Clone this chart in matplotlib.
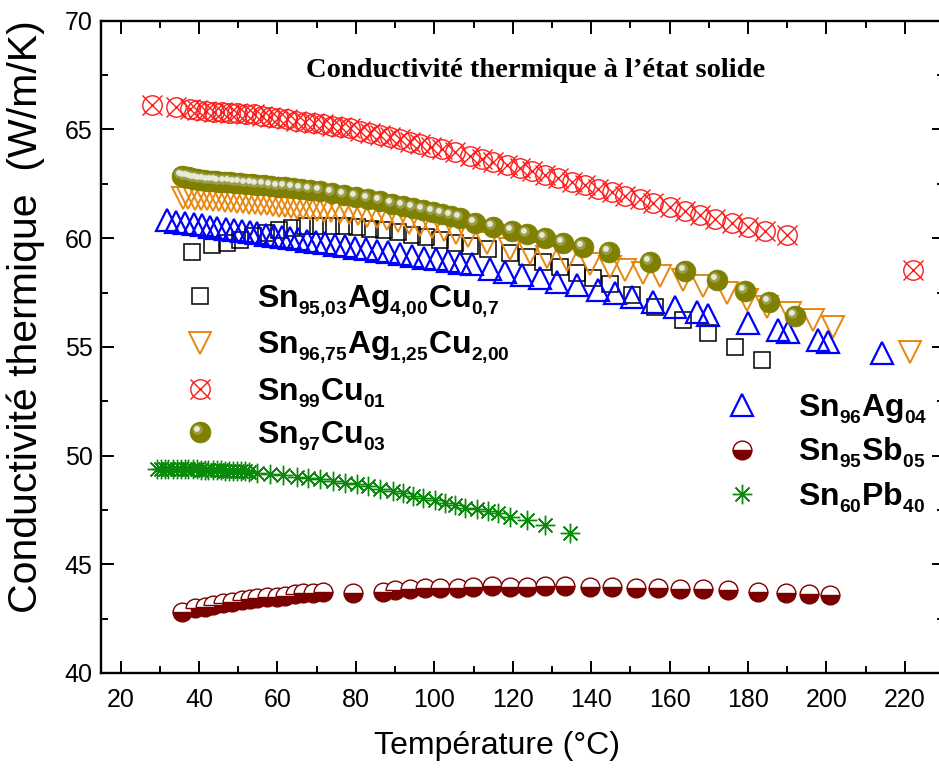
import matplotlib
matplotlib.use("Agg")
import matplotlib.pyplot as plt
from matplotlib.path import Path
from matplotlib.legend_handler import HandlerTuple
from matplotlib.ticker import MultipleLocator

try:
    import matplotlib._mathtext as _mt
    _mt.SHRINK_FACTOR = 0.6
    _mt.FontConstantsBase.sub1 = 0.45
except Exception:
    pass

# ---------------- data ----------------
# Sn95,03Ag4,00Cu0,7  (black open squares)
T_sac = [38.1, 43.2, 47.0, 50.4, 53.7, 57.0, 60.3, 63.6, 66.9, 70.3, 73.6, 76.9,
         80.2, 83.5, 87.1, 90.7, 94.2, 97.8, 101.4, 105.2, 109.0, 113.6, 119.2,
         123.6, 127.7, 132.0, 136.3, 140.4, 144.7, 150.4, 156.2, 163.4, 169.7,
         176.6, 183.5]
k_sac = [59.36, 59.68, 59.80, 59.92, 60.10, 60.25, 60.38, 60.48, 60.55, 60.58,
         60.58, 60.55, 60.50, 60.44, 60.36, 60.27, 60.16, 60.04, 59.90, 59.76,
         59.62, 59.48, 59.32, 59.12, 58.90, 58.66, 58.40, 58.15, 57.90, 57.40,
         56.83, 56.22, 55.63, 54.99, 54.39]

# Sn96,75Ag1,25Cu2,00  (orange open down-triangles)
T_sac2 = [35.8, 37.3, 38.9, 40.4, 41.9, 43.5, 45.0, 46.5, 48.1, 49.6, 51.1, 52.7,
          54.2, 55.7, 57.2, 58.8, 60.3, 61.8, 63.4, 64.9, 66.4, 68.2, 70.0, 71.8,
          73.6, 75.9, 78.2, 80.5, 82.8, 85.3, 87.9, 90.7, 93.5, 96.3, 99.3, 102.4,
          105.5, 108.5, 113.4, 119.2, 124.3, 128.7, 133.8, 139.6, 144.7, 148.6,
          153.2, 157.5, 163.4, 168.5, 174.6, 179.7, 184.8, 190.7, 196.5, 201.6,
          221.3]
k_sac2 = [61.86, 61.84, 61.82, 61.80, 61.78, 61.76, 61.74, 61.72, 61.70, 61.68,
          61.65, 61.63, 61.60, 61.58, 61.55, 61.52, 61.49, 61.46, 61.43, 61.40,
          61.38, 61.34, 61.31, 61.27, 61.24, 61.19, 61.14, 61.09, 61.03, 60.96,
          60.90, 60.81, 60.72, 60.62, 60.51, 60.38, 60.24, 60.10, 59.80, 59.50,
          59.32, 59.15, 59.00, 58.82, 58.67, 58.52, 58.39, 58.25, 58.07, 57.80,
          57.47, 57.15, 56.83, 56.54, 56.22, 55.90, 54.75]

# Sn99Cu01  (red circle with cross)
T_cu1 = [27.9, 34.0, 37.6, 39.6, 41.7, 43.7, 45.8, 47.8, 49.8, 51.9, 53.9, 56.0,
         58.0, 60.1, 62.3, 64.6, 66.9, 69.2, 71.5, 73.8, 76.1, 78.4, 81.0, 83.5,
         86.1, 88.6, 91.2, 93.7, 96.3, 99.1, 101.9, 105.2, 109.0, 112.1, 114.9,
         118.5, 121.8, 124.8, 128.2, 131.5, 135.1, 138.4, 141.7, 145.3, 148.6,
         152.4, 155.7, 160.1, 163.9, 167.7, 171.5, 175.9, 180.0, 184.3, 189.9,
         222.0]
k_cu1 = [66.12, 66.03, 65.92, 65.88, 65.85, 65.82, 65.79, 65.77, 65.74, 65.73,
         65.70, 65.64, 65.59, 65.53, 65.47, 65.41, 65.35, 65.29, 65.23, 65.17,
         65.11, 65.05, 64.95, 64.85, 64.75, 64.65, 64.55, 64.44, 64.33, 64.21,
         64.10, 63.96, 63.79, 63.65, 63.52, 63.36, 63.21, 63.07, 62.92, 62.76,
         62.59, 62.43, 62.27, 62.10, 61.95, 61.78, 61.63, 61.43, 61.25, 61.08,
         60.90, 60.71, 60.52, 60.33, 60.13, 58.55]

# Sn97Cu03  (olive balls)
T_cu3 = [35.6, 36.3, 37.1, 37.9, 38.6, 39.4, 40.2, 41.2, 42.2, 43.2, 44.2, 45.2,
         46.5, 47.8, 49.1, 50.4, 51.9, 53.4, 54.9, 56.5, 58.3, 60.1, 61.8, 63.9,
         65.9, 68.2, 70.8, 73.8, 76.9, 79.9, 83.0, 86.1, 89.1, 91.9, 94.5, 97.0,
         99.6, 101.9, 104.2, 106.5, 110.3, 114.9, 119.7, 123.6, 128.2, 132.8,
         137.9, 144.5, 155.0, 163.9, 172.0, 179.2, 185.3, 191.9]
k_cu3 = [62.85, 62.82, 62.79, 62.76, 62.73, 62.71, 62.68, 62.66, 62.64, 62.63,
         62.61, 62.60, 62.58, 62.56, 62.55, 62.53, 62.51, 62.49, 62.46, 62.43,
         62.40, 62.37, 62.34, 62.30, 62.26, 62.21, 62.15, 62.08, 62.00, 61.91,
         61.81, 61.70, 61.58, 61.48, 61.38, 61.29, 61.19, 61.10, 61.01, 60.92,
         60.69, 60.50, 60.31, 60.18, 60.00, 59.77, 59.58, 59.35, 58.89, 58.48,
         58.07, 57.56, 57.06, 56.42]

# Sn96Ag04  (blue open up-triangles)
T_ag4 = [31.7, 34.0, 36.3, 38.6, 40.7, 42.7, 44.7, 46.8, 48.8, 50.9, 52.9, 54.9,
         57.0, 59.0, 61.1, 63.1, 65.2, 67.4, 69.7, 72.0, 74.6, 77.1, 79.7, 82.5,
         85.3, 88.1, 91.2, 94.2, 97.3, 100.4, 103.4, 106.5, 109.5, 114.1, 118.0,
         122.3, 126.9, 131.2, 136.3, 141.7, 146.0, 150.4, 155.7, 161.3, 166.9,
         169.7, 180.0, 187.6, 190.2, 197.8, 200.4, 214.1]
k_ag4 = [60.82, 60.76, 60.70, 60.64, 60.59, 60.53, 60.48, 60.43, 60.38, 60.32,
         60.27, 60.22, 60.16, 60.11, 60.06, 60.00, 59.95, 59.89, 59.83, 59.77,
         59.70, 59.64, 59.57, 59.50, 59.43, 59.35, 59.27, 59.20, 59.11, 59.03,
         58.96, 58.88, 58.80, 58.60, 58.43, 58.30, 58.15, 57.98, 57.84, 57.60,
         57.48, 57.30, 57.06, 56.83, 56.60, 56.47, 56.10, 55.77, 55.68, 55.32,
         55.22, 54.70]

# Sn95Sb05  (maroon half-filled circles)
T_sb5 = [35.6, 38.9, 41.4, 43.5, 46.0, 48.3, 50.9, 52.9, 54.9, 57.2, 59.8, 61.8,
         64.4, 66.4, 69.0, 71.5, 79.2, 86.8, 89.9, 93.7, 97.6, 101.4, 106.0,
         109.8, 114.6, 119.2, 123.6, 128.2, 133.3, 139.6, 145.3, 151.4, 157.0,
         162.6, 168.5, 174.8, 182.5, 189.6, 195.5, 200.9]
k_sb5 = [42.80, 42.98, 43.03, 43.12, 43.21, 43.26, 43.34, 43.40, 43.44, 43.48,
         43.49, 43.54, 43.63, 43.67, 43.68, 43.72, 43.70, 43.74, 43.81, 43.86,
         43.90, 43.91, 43.91, 43.95, 44.00, 43.97, 43.97, 44.00, 44.00, 43.97,
         43.97, 43.91, 43.91, 43.86, 43.86, 43.81, 43.74, 43.70, 43.65, 43.61]

# Sn60Pb40  (green asterisks)
T_pb = [29.2, 30.2, 31.2, 32.2, 33.3, 34.3, 35.3, 36.3, 37.3, 38.4, 39.4, 40.4,
        41.4, 42.4, 43.5, 44.5, 45.5, 46.5, 47.6, 48.6, 49.6, 50.6, 51.6, 52.7,
        54.7, 58.0, 61.3, 64.9, 67.7, 70.8, 74.1, 77.1, 80.2, 83.0, 86.1, 89.4,
        91.9, 94.5, 97.0, 100.1, 102.7, 105.2, 107.8, 110.8, 113.6, 116.2, 119.2,
        123.6, 128.2, 134.5]
k_pb = [49.36, 49.36, 49.37, 49.37, 49.37, 49.37, 49.37, 49.37, 49.36, 49.36,
        49.36, 49.35, 49.35, 49.34, 49.33, 49.33, 49.32, 49.31, 49.30, 49.30,
        49.29, 49.28, 49.27, 49.26, 49.22, 49.16, 49.10, 49.03, 48.98, 48.93,
        48.85, 48.76, 48.67, 48.58, 48.46, 48.36, 48.26, 48.16, 48.05, 47.94,
        47.83, 47.72, 47.61, 47.52, 47.43, 47.34, 47.19, 47.03, 46.80, 46.42]

labels_left = [r"$\mathbf{Sn}_{\mathbf{95{,}03}}\mathbf{Ag}_{\mathbf{4{,}00}}\mathbf{Cu}_{\mathbf{0{,}7}}$",
               r"$\mathbf{Sn}_{\mathbf{96{,}75}}\mathbf{Ag}_{\mathbf{1{,}25}}\mathbf{Cu}_{\mathbf{2{,}00}}$",
               r"$\mathbf{Sn}_{\mathbf{99}}\mathbf{Cu}_{\mathbf{01}}$",
               r"$\mathbf{Sn}_{\mathbf{97}}\mathbf{Cu}_{\mathbf{03}}$"]
labels_right = [r"$\mathbf{Sn}_{\mathbf{96}}\mathbf{Ag}_{\mathbf{04}}$",
                r"$\mathbf{Sn}_{\mathbf{95}}\mathbf{Sb}_{\mathbf{05}}$",
                r"$\mathbf{Sn}_{\mathbf{60}}\mathbf{Pb}_{\mathbf{40}}$"]

title_text = "Conductivité thermique à l’état solide"
xlabel_text = "Température (°C)"
ylabel_text = "Conductivité thermique  (W/m/K)"

# ---------------- style ----------------
plt.rcParams["font.family"] = ["Liberation Sans", "DejaVu Sans"]
plt.rcParams["mathtext.fontset"] = "custom"
plt.rcParams["mathtext.rm"] = "Liberation Sans"
plt.rcParams["mathtext.it"] = "Liberation Sans:italic"
plt.rcParams["mathtext.bf"] = "Liberation Sans:bold"

fig = plt.figure(figsize=(9.39, 7.68), dpi=100)
ax = fig.add_axes([0.1076, 0.1237, 0.8978, 0.8493])


def spot(cx, cy, r):
    circ = Path.circle(center=(cx, cy), radius=r)
    frame = Path([(-1.0, -1.0), (1.0, 1.0)], [Path.MOVETO, Path.MOVETO])
    return Path.make_compound_path(circ, frame)


OLIVE = "#7f7f00"
ORANGE = "#e8870f"
RED = "#ff1a1a"
BLUE = "#0000ff"
MAROON = "#7a0000"
GREEN = "#0a8a0a"

h_sq, = ax.plot(T_sac, k_sac, ls="none", marker="s", ms=12, mfc="none",
                mec="black", mew=1.1, zorder=2)
h_or, = ax.plot(T_sac2, k_sac2, ls="none", marker="v", ms=15.5, mfc="none",
                mec=ORANGE, mew=1.4, zorder=3)
h_bl, = ax.plot(T_ag4, k_ag4, ls="none", marker="^", ms=15.5, mfc="none",
                mec=BLUE, mew=1.6, zorder=4)
h_ro, = ax.plot(T_cu1, k_cu1, ls="none", marker="o", ms=14, mfc="none",
                mec=RED, mew=1.0, zorder=5)
h_rx, = ax.plot(T_cu1, k_cu1, ls="none", marker="x", ms=14, mec=RED,
                mew=1.0, zorder=5)
h_ol, = ax.plot(T_cu3, k_cu3, ls="none", marker="o", ms=15, mfc=OLIVE,
                mec=OLIVE, mew=0.5, zorder=6)
h_ol2, = ax.plot(T_cu3, k_cu3, ls="none", marker=spot(-0.28, 0.28, 0.50),
                 ms=15, mfc="#9c9c4c", mew=0, zorder=6)
h_ol3, = ax.plot(T_cu3, k_cu3, ls="none", marker=spot(-0.34, 0.34, 0.28),
                 ms=15, mfc="#e4ecd6", mew=0, zorder=6)
h_sb, = ax.plot(T_sb5, k_sb5, ls="none", marker="o", ms=13.5, fillstyle="bottom",
                mfc=MAROON, mfcalt="white", mec=MAROON, mew=1.0, zorder=4)
h_pb, = ax.plot(T_pb, k_pb, ls="none", marker=(8, 2, 0), ms=14, mec=GREEN,
                mew=1.0, zorder=4)

# ---------------- axes ----------------
ax.set_xlim(15, 230)
ax.set_ylim(40, 70)
ax.xaxis.set_major_locator(MultipleLocator(20))
ax.xaxis.set_minor_locator(MultipleLocator(10))
ax.yaxis.set_major_locator(MultipleLocator(5))
ax.yaxis.set_minor_locator(MultipleLocator(2.5))
ax.tick_params(which="both", direction="in", top=True, right=True,
               width=1.4, labelsize=18)
ax.tick_params(which="major", length=9)
ax.tick_params(which="minor", length=5)
ax.tick_params(axis="x", pad=11)
ax.tick_params(axis="y", pad=6)
for s in ax.spines.values():
    s.set_linewidth(1.7)

ax.set_xlabel(xlabel_text, fontsize=23)
ax.xaxis.set_label_coords(0.470, -0.089)
ax.set_ylabel(ylabel_text, fontsize=29.5)
ax.yaxis.set_label_coords(-0.066, 0.547)

ax.text(0.515, 0.923, title_text, transform=ax.transAxes, ha="center",
        va="center", fontsize=20.5, fontweight="bold",
        family=["Liberation Serif", "DejaVu Serif"])

hm = {tuple: HandlerTuple(ndivide=1, pad=0)}
leg1 = ax.legend(handles=[h_sq, h_or, (h_ro, h_rx), (h_ol, h_ol2, h_ol3)],
                 labels=labels_left, loc="upper left",
                 bbox_to_anchor=(0.079, 0.597), frameon=False, fontsize=23,
                 handlelength=2.0, handletextpad=0.8, labelspacing=0.30,
                 borderpad=0, borderaxespad=0, handler_map=hm)
ax.add_artist(leg1)
leg2 = ax.legend(handles=[h_bl, h_sb, h_pb], labels=labels_right,
                 loc="upper left", bbox_to_anchor=(0.722, 0.430),
                 frameon=False, fontsize=23, handlelength=2.0,
                 handletextpad=0.75, labelspacing=0.30, borderpad=0,
                 borderaxespad=0, handler_map=hm)

fig.savefig("out.png", dpi=100)
